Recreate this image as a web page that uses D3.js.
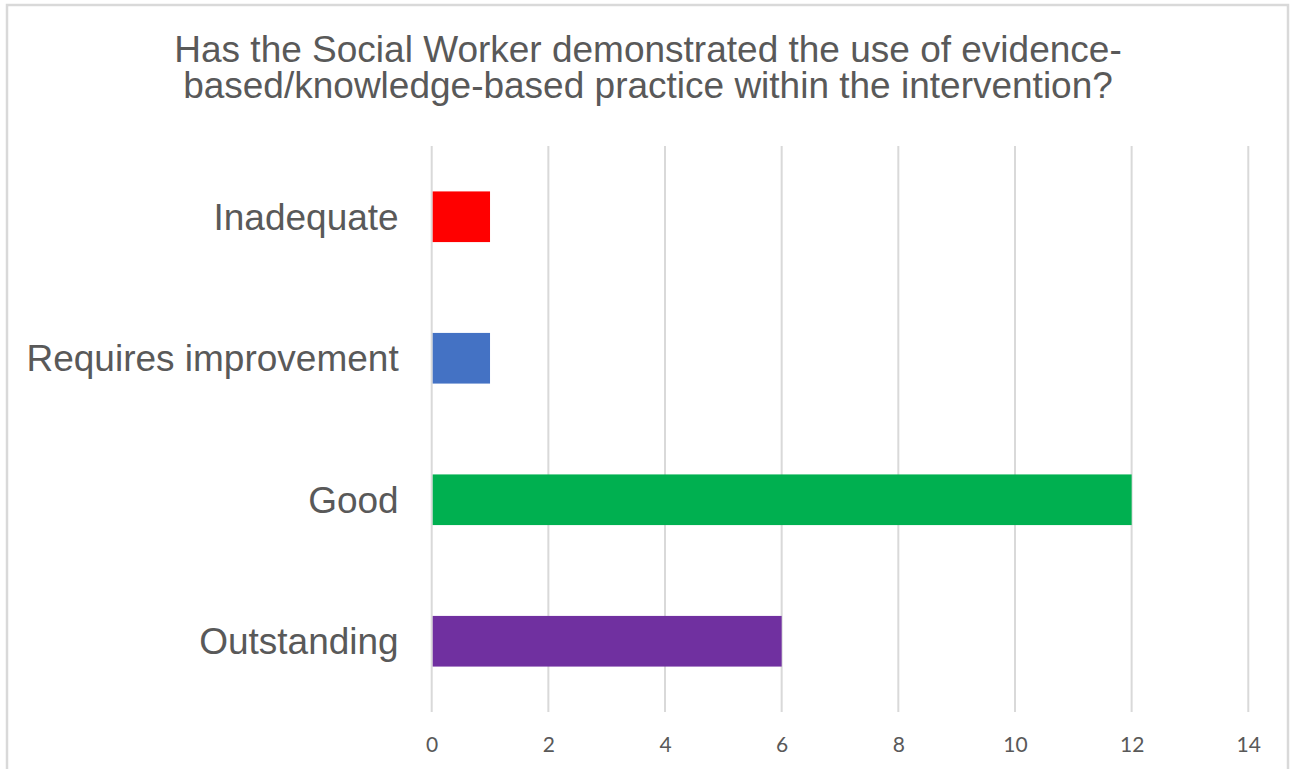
<!DOCTYPE html>
<html>
<head>
<meta charset="utf-8">
<script src="https://cdn.jsdelivr.net/npm/d3@7"></script>
<style>
  html, body { margin: 0; padding: 0; background: #ffffff; }
  svg { display: block; }
</style>
</head>
<body>
<svg id="chart" width="1295" height="769"></svg>
<script>
// Survey responses, listed top to bottom
const categories = ["Inadequate", "Requires improvement", "Good", "Outstanding"];
const counts = [1, 1, 12, 6];
const barColors = ["#FF0000", "#4472C4", "#00B050", "#7030A0"];
const xTicks = [0, 2, 4, 6, 8, 10, 12, 14];
const titleLines = [
  "Has the Social Worker demonstrated the use of evidence-",
  "based/knowledge-based practice within the intervention?"
];

const W = 1295, H = 769;
const svg = d3.select("#chart");

// chart frame
svg.append("rect")
  .attr("x", 7).attr("y", 5)
  .attr("width", 1281).attr("height", H + 20)
  .attr("fill", "#ffffff")
  .attr("stroke", "#d9d9d9").attr("stroke-width", 2.5);

// title
const title = svg.append("text")
  .attr("text-anchor", "middle")
  .attr("font-family", "'Liberation Sans', Arial, sans-serif")
  .attr("font-size", 37)
  .attr("fill", "#595959");
title.selectAll("tspan").data(titleLines).join("tspan")
  .attr("x", 648)
  .attr("y", (d, i) => 62 + i * 36)
  .text(d => d);

const plot = { left: 431.7, right: 1248.3, top: 146, bottom: 712 };

const x = d3.scaleLinear().domain([0, 14]).range([plot.left, plot.right]);
const y = d3.scaleBand().domain(categories)
  .range([plot.top, plot.bottom])
  .paddingInner(0.642).paddingOuter(0.321);

// vertical gridlines
svg.append("g").selectAll("line").data(xTicks).join("line")
  .attr("x1", d => x(d)).attr("x2", d => x(d))
  .attr("y1", plot.top).attr("y2", plot.bottom)
  .attr("stroke", "#d9d9d9").attr("stroke-width", 2);

// bars
svg.append("g").selectAll("rect")
  .data(categories.map((c, i) => ({ c, v: counts[i], color: barColors[i] })))
  .join("rect")
  .attr("x", x(0) + 1)
  .attr("y", d => y(d.c))
  .attr("width", d => x(d.v) - x(0) - 1)
  .attr("height", y.bandwidth())
  .attr("fill", d => d.color);

// category axis
const yAxis = svg.append("g")
  .attr("transform", `translate(${plot.left - 33},0)`)
  .call(d3.axisLeft(y).tickSize(0).tickPadding(0));
yAxis.select(".domain").remove();
yAxis.selectAll("text")
  .attr("font-family", "'Liberation Sans', Arial, sans-serif")
  .attr("font-size", 37)
  .attr("fill", "#595959")
  .attr("dy", "0.35em");

// value axis
const xAxis = svg.append("g")
  .attr("transform", `translate(0,${plot.bottom})`)
  .call(d3.axisBottom(x).tickValues(xTicks).tickSize(0).tickPadding(0));
xAxis.select(".domain").remove();
xAxis.selectAll("text")
  .attr("font-family", "Lato, 'Open Sans', sans-serif")
  .attr("font-size", 21)
  .attr("fill", "#595959")
  .attr("dy", null)
  .attr("y", 40);
</script>
</body>
</html>
